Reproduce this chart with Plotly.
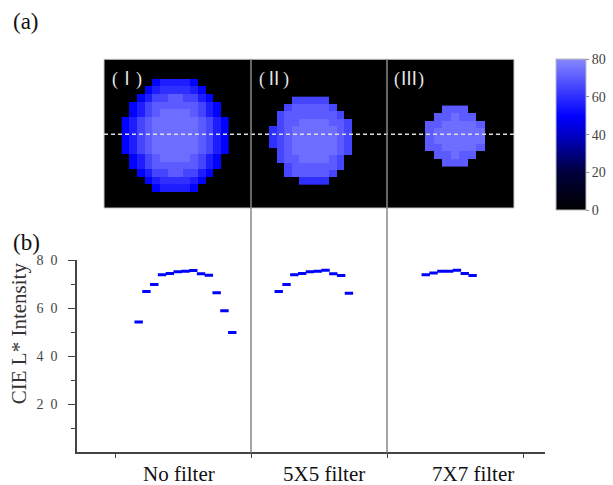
import plotly.graph_objects as go

# ---------------- data ----------------
categories = ["No filter", "5X5 filter", "7X7 filter"]
nofilter_vals = [54.3, 67.0, 69.9, 74.0, 74.5, 75.2, 75.4, 75.8, 74.4, 73.8, 66.5, 59.0, 49.9]
filter5_vals = [67.0, 69.9, 74.0, 74.5, 75.2, 75.4, 75.9, 74.4, 73.7, 66.3]
filter7_vals = [74.0, 74.7, 75.4, 75.4, 75.9, 74.5, 73.7]
y_tickvals = [20, 40, 60, 80]
y_ticktext = ["2\u20020", "4\u20020", "6\u20020", "8\u20020"]
cbar_ticks = [0, 20, 40, 60, 80]
panel_labels = ["Ⅰ", "Ⅱ", "Ⅲ"]

# pixel maps: '.' = background, letters = intensity level
levels = {"a": 50, "b": 56, "c": 60, "d": 65, "e": 70, "f": 74}
panel1_rows = [
    "....abbbba....",
    "...abccccba...",
    "..abddeeddba..",
    ".abdeeeeeedba.",
    ".abdeffffedba.",
    "abdeffffffedba",
    "abdeffffffedba",
    "abdeffffffedba",
    "abdeffffffedba",
    "abdeffffffedba",
    ".abdeffffedba.",
    ".abdeeeeeedba.",
    "..abddeeddba..",
    "...abccccba...",
    "....abbbba....",
]
panel2_rows = [
    "...ddddd...",
    "..deeeeed..",
    ".deeeeeeed.",
    ".deeffffeed",
    "cdeffffffed",
    "cdeffffffed",
    "cdeffffffed",
    ".deffffffed",
    ".deeffffed.",
    "..deeeeeed.",
    "..deeeeed..",
    "....cccc...",
]
panel3_rows = [
    "..eee..",
    ".eefee.",
    "eeffffe",
    "effffff",
    "effffff",
    "eeffffe",
    ".eefee.",
    "..eee..",
]


def to_grid(rows):
    return [[levels.get(ch) if ch != "." else None for ch in r] for r in rows]


W, H = 613, 485
SERIF = "Liberation Serif, Times New Roman, serif"


def px(x):
    return x / W


def py(y):
    return 1 - y / H


fig = go.Figure()

# ---------- top image panels ----------
U = 7.8  # screen px per image pixel
heat_specs = [
    (panel1_rows, (121.7 - 104) / U, (73 - 53) / U, 0.976, 0.983),
    (panel2_rows, (269 - 104) / U, (91 - 53) / U, 0.97, 0.95),
    (panel3_rows, (425 - 104) / U, (100 - 53) / U, 1.1, 0.99),
]
for rows, xs, ys, dx, dy in heat_specs:
    fig.add_trace(go.Heatmap(
        z=to_grid(rows), x0=xs + dx / 2, dx=dx, y0=ys + dy / 2, dy=dy,
        coloraxis="coloraxis", xaxis="x2", yaxis="y2", hoverinfo="skip",
    ))

# ---------- bottom profile plot ----------
group_start = [0.174, 1.204, 2.285]
step = 7.8 / 136
for vals, g in zip([nofilter_vals, filter5_vals, filter7_vals], group_start):
    fig.add_trace(go.Scatter(
        x=[g + i * step for i in range(len(vals))], y=vals, mode="markers",
        marker=dict(symbol="line-ew", size=6, color="#0000ff",
                    line=dict(color="#0000ff", width=3)),
        xaxis="x", yaxis="y", showlegend=False,
    ))

fig.update_layout(
    width=W, height=H, margin=dict(l=0, r=0, t=0, b=0),
    paper_bgcolor="white", plot_bgcolor="rgba(0,0,0,0)", showlegend=False,
    coloraxis=dict(
        cmin=0, cmax=80,
        colorscale=[[0, "#000000"], [0.25, "#00003c"], [0.5, "#0000c8"],
                    [0.62, "#0000ff"], [1.0, "#8888ff"]],
        colorbar=dict(
            x=px(556), xanchor="left", y=py(53), yanchor="top",
            len=153 / H, lenmode="fraction", thickness=30, thicknessmode="pixels",
            xpad=0, ypad=0, tickvals=cbar_ticks, ticks="outside", ticklen=3,
            tickcolor="#888", outlinewidth=1, outlinecolor="#bbbbbb",
            tickfont=dict(family=SERIF, size=14, color="#444"),
        ),
    ),
    xaxis2=dict(domain=[px(104), px(514)], range=[0, 410 / U], anchor="y2",
                visible=False, fixedrange=True),
    yaxis2=dict(domain=[py(204), py(53)], range=[151 / U, 0], anchor="x2",
                visible=False, fixedrange=True),
    xaxis=dict(domain=[px(77), px(545)], range=[-38 / 136, 3 + 22 / 136], anchor="y",
               showline=True, linecolor="#444", linewidth=1.5, ticks="outside",
               tickvals=[0, 1, 2, 3], ticklen=4, tickcolor="#444",
               showticklabels=False, showgrid=False, zeroline=False),
    yaxis=dict(domain=[py(452), py(257)], range=[0, 80], anchor="x",
               showline=True, linecolor="#444", linewidth=1.5, ticks="outside",
               tickvals=y_tickvals, ticktext=y_ticktext, ticklen=7, tickcolor="#444",
               ticklabelstandoff=8,
               tickfont=dict(family=SERIF, size=14, color="#444"),
               minor=dict(tickvals=[10, 30, 50, 70], ticks="outside", ticklen=4,
                          tickcolor="#444"),
               showgrid=False, zeroline=False),
)

shapes = [
    dict(type="rect", xref="x2 domain", yref="y2 domain", x0=0, x1=1, y0=0, y1=1,
         fillcolor="black", line=dict(width=0), layer="below"),
    dict(type="rect", xref="x2 domain", yref="y2 domain", x0=0, x1=1, y0=0, y1=1,
         line=dict(color="#cccccc", width=1)),
    dict(type="line", xref="x2 domain", yref="y2", x0=0, x1=1,
         y0=(129 - 53) / U, y1=(129 - 53) / U,
         line=dict(color="#dddddd", width=1.5, dash="4px,3px")),
]
for xv in [1, 2]:
    shapes.append(dict(type="line", xref="x", yref="paper", x0=xv, x1=xv,
                       y0=py(452), y1=py(53), line=dict(color="#888", width=1.5)))
fig.update_layout(shapes=shapes)

C = dict(xanchor="center", yanchor="middle", showarrow=False)
ann = []
for lab, cx in zip(panel_labels, [127, 274, 409]):
    txt = "(<span style='font-family:Noto Sans CJK JP'>" + lab + "</span>)"
    ann.append(dict(text=txt, x=px(cx), y=py(71), xref="paper", yref="paper",
                    font=dict(family=SERIF, size=18, color="#e6e6e6"), **C))
for txt, cy in [("(a)", 15), ("(b)", 239)]:
    ann.append(dict(text=txt, x=px(26), y=py(cy), xref="paper", yref="paper",
                    font=dict(family=SERIF, size=23, color="#111"), **C))
for txt, cx in zip(categories, [0.47, 1.54, 2.63]):
    ann.append(dict(text=txt, x=cx, y=py(474), xref="x", yref="paper",
                    font=dict(family=SERIF, size=21, color="#111"), **C))
ann.append(dict(text="CIE L* Intensity", x=px(19), y=py(331), xref="paper", yref="paper",
                textangle=-90, font=dict(family=SERIF, size=21, color="#333"), **C))
fig.update_layout(annotations=ann)

fig.write_html("out.html", config={"displayModeBar": False},
               post_script="document.body.style.margin='0';document.body.style.overflow='hidden';")
